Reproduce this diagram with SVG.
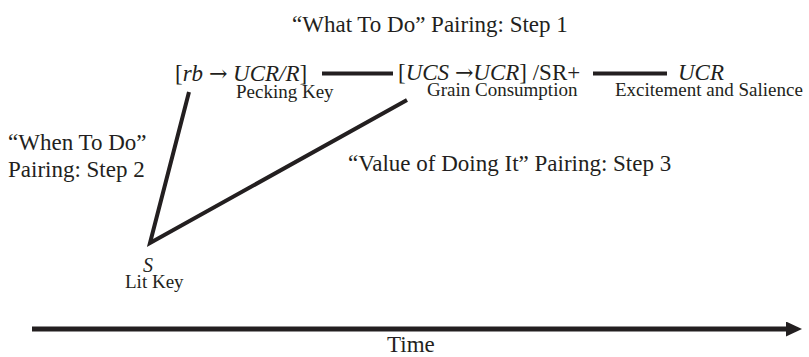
<svg xmlns="http://www.w3.org/2000/svg" width="809" height="357" viewBox="0 0 809 357">
  <style>
    text { font-family: "Liberation Serif", "Times New Roman", serif; fill: #231f20; }
    .main { font-size: 23px; }
    .sub { font-size: 19px; }
    .it { font-style: italic; }
    .arr { font-family: "DejaVu Serif", "DejaVu Sans", serif; font-size: 22px; }
    .conn { stroke: #231f20; stroke-width: 4; fill: none; }
  </style>
  <defs>
    <marker id="arrowhead" markerWidth="4" markerHeight="3" refX="0.4" refY="1.5" orient="auto" markerUnits="strokeWidth">
      <path d="M0,0 L3.2,1.5 L0,3 Z" fill="#231f20"/>
    </marker>
  </defs>
  <rect width="809" height="357" fill="#ffffff"/>

  <g id="title">
    <text class="main" x="292" y="32">“What To Do” Pairing: Step 1</text>
  </g>

  <g id="node-pecking-key">
    <text class="main" x="175" y="81">[<tspan class="it">rb</tspan> <tspan class="arr">→</tspan> <tspan class="it">UCR/R</tspan>]</text>
    <text class="sub" x="236" y="98">Pecking Key</text>
  </g>

  <g id="node-grain-consumption">
    <text class="main" x="398" y="80">[<tspan class="it">UCS</tspan> <tspan class="arr">→</tspan><tspan class="it">UCR</tspan>] /SR+</text>
    <text class="sub" x="427" y="96">Grain Consumption</text>
  </g>

  <g id="node-excitement">
    <text class="main it" x="678" y="80">UCR</text>
    <text class="sub" x="615" y="96">Excitement and Salience</text>
  </g>

  <g id="node-lit-key">
    <text class="it" x="143" y="272" font-size="20">S</text>
    <text class="sub" x="125" y="288">Lit Key</text>
  </g>

  <g id="label-step2">
    <text class="main" x="8" y="150">“When To Do”</text>
    <text class="main" x="8" y="177">Pairing: Step 2</text>
  </g>

  <g id="label-step3">
    <text class="main" x="348" y="171">“Value of Doing It” Pairing: Step 3</text>
  </g>

  <g id="connectors">
    <line class="conn" x1="322" y1="73.5" x2="393" y2="73.5"/>
    <line class="conn" x1="593" y1="73.5" x2="667" y2="73.5"/>
    <polyline class="conn" points="189,92 150,243 407,100" stroke-linejoin="miter"/>
    <line x1="32" y1="329" x2="788" y2="329" stroke="#231f20" stroke-width="5" marker-end="url(#arrowhead)"/>
  </g>

  <g id="time-label">
    <text class="main" x="387" y="352">Time</text>
  </g>
</svg>
